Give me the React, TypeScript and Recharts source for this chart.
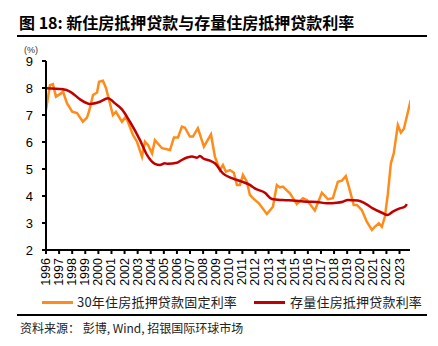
import React from 'react'
import { LineChart, Line, XAxis, YAxis } from 'recharts'

// 30年住房抵押贷款固定利率 (approx)
const fixedYears = [
  1996.0, 1996.3, 1996.53, 1996.76, 1997.15, 1997.3, 1997.6, 1998.0, 1998.37, 1998.82,
  1999.13, 1999.28, 1999.59, 1999.9, 2000.05, 2000.35, 2000.58, 2001.11, 2001.34, 2001.8,
  2002.1, 2002.64, 2002.95, 2003.33, 2003.56, 2003.79, 2004.1, 2004.32, 2004.86, 2005.24,
  2005.47, 2005.77, 2006.08, 2006.38, 2006.61, 2006.99, 2007.22, 2007.6, 2008.06, 2008.6,
  2008.9, 2009.28, 2009.51, 2009.74, 2010.05, 2010.35, 2010.58, 2010.81, 2011.04, 2011.34,
  2011.57, 2011.8, 2012.26, 2012.87, 2013.33, 2013.63, 2013.86, 2014.09, 2014.63, 2015.16,
  2015.62, 2015.92, 2016.53, 2017.07, 2017.53, 2017.91, 2018.29, 2018.6, 2018.9, 2019.2,
  2019.5, 2019.74, 2020.12, 2020.5, 2020.89, 2021.11, 2021.42, 2021.65, 2021.88, 2022.1,
  2022.34, 2022.56, 2022.87, 2023.1, 2023.33, 2023.86,
]
const fixedRates = [
  7.19, 8.1, 8.14, 7.68, 7.8, 7.87, 7.44, 7.12, 7.07, 6.75,
  6.9, 7.12, 7.74, 7.83, 8.23, 8.27, 8.0, 7.0, 7.12, 6.75,
  6.94, 6.26, 6.01, 5.46, 6.01, 5.89, 5.58, 6.07, 5.77, 5.73,
  5.7, 6.17, 6.17, 6.57, 6.53, 6.2, 6.2, 6.51, 5.83, 6.28,
  5.46, 4.96, 5.15, 4.9, 4.96, 4.86, 4.41, 4.41, 4.78, 4.53,
  4.04, 3.92, 3.73, 3.33, 3.6, 4.41, 4.32, 4.35, 4.1, 3.7,
  3.92, 3.85, 3.46, 4.12, 3.88, 3.92, 4.53, 4.57, 4.74, 4.22,
  3.67, 3.67, 3.48, 3.05, 2.74, 2.86, 2.99, 2.86, 3.23, 4.04,
  5.21, 5.58, 6.63, 6.35, 6.48, 7.56,
]

// 存量住房抵押贷款利率
const stockYears = [
  1996.0, 1997.3, 1997.83, 1998.6, 1999.36, 2000.12, 2000.73, 2001.27, 2001.8, 2002.41,
  2003.18, 2003.71, 2004.32, 2004.7, 2005.08, 2005.31, 2006.0, 2006.46, 2007.15, 2007.53,
  2007.76, 2007.98, 2008.52, 2008.9, 2009.51, 2010.2, 2010.96, 2011.57, 2011.95, 2012.72,
  2013.25, 2014.09, 2014.85, 2015.92, 2016.69, 2017.45, 2018.21, 2018.67, 2019.05, 2019.82,
  2020.35, 2020.96, 2021.65, 2022.1, 2022.49, 2023.02, 2023.4, 2023.56,
]
const stockRates = [
  7.99, 7.95, 7.87, 7.58, 7.41, 7.49, 7.62, 7.43, 7.21, 6.75,
  6.07, 5.52, 5.19, 5.15, 5.21, 5.19, 5.23, 5.36, 5.46, 5.42,
  5.48, 5.4, 5.31, 5.21, 4.84, 4.66, 4.53, 4.41, 4.28, 4.12,
  3.89, 3.85, 3.83, 3.79, 3.78, 3.73, 3.75, 3.79, 3.85, 3.83,
  3.73, 3.54, 3.38, 3.3, 3.42, 3.54, 3.6, 3.7,
]

const yearTicks = [
  1996, 1997, 1998, 1999, 2000, 2001, 2002, 2003, 2004, 2005, 2006, 2007, 2008, 2009,
  2010, 2011, 2012, 2013, 2014, 2015, 2016, 2017, 2018, 2019, 2020, 2021, 2022, 2023,
]
const rateTicks = [2, 3, 4, 5, 6, 7, 8, 9]

const fixedData = fixedYears.map((t, i) => ({ t, v: fixedRates[i] }))
const stockData = stockYears.map((t, i) => ({ t, v: stockRates[i] }))

const ORANGE = '#FF8C1A'
const RED = '#C00000'
const numFont = '"Liberation Sans", Arial, sans-serif'
const cjkFont = '"Noto Sans CJK SC", sans-serif'

const YearTick = (props: any) => {
  const { x, y, payload } = props
  return (
    <text
      x={x}
      y={y}
      transform={`rotate(-90 ${x} ${y})`}
      textAnchor="end"
      dominantBaseline="central"
      fontSize={12.5}
      fontFamily={numFont}
      fill="#000"
    >
      {payload.value}
    </text>
  )
}

export default function App() {
  return (
    <div
      style={{
        position: 'absolute',
        left: 0,
        top: 0,
        width: 438,
        height: 346,
        background: '#fff',
        overflow: 'hidden',
      }}
    >
      <div
        style={{
          position: 'absolute',
          left: 19,
          top: 12,
          fontSize: 16,
          fontWeight: 'bold',
          fontFamily: cjkFont,
          lineHeight: '20px',
          whiteSpace: 'nowrap',
        }}
      >
        图 18: 新住房抵押贷款与存量住房抵押贷款利率
      </div>
      <div style={{ position: 'absolute', left: 17, top: 35, width: 410, height: 2, background: '#000' }} />

      <div
        style={{
          position: 'absolute',
          left: 24,
          top: 45,
          fontSize: 9,
          fontFamily: numFont,
          lineHeight: '10px',
          color: '#333',
        }}
      >
        (%)
      </div>

      <div style={{ position: 'absolute', left: 0, top: 0 }}>
        <LineChart width={438} height={292} margin={{ top: 61, right: 28, bottom: 0, left: 16 }}>
          <XAxis
            type="number"
            dataKey="t"
            domain={[1996, 2023.8]}
            ticks={yearTicks}
            interval={0}
            allowDataOverflow
            stroke="#000"
            strokeWidth={2}
            tickSize={4}
            tickMargin={4}
            tick={<YearTick />}
            height={42}
          />
          <YAxis
            type="number"
            domain={[2, 9]}
            ticks={rateTicks}
            interval={0}
            stroke="#000"
            strokeWidth={2}
            tickSize={4}
            tickMargin={9}
            width={30}
            tick={{ fontSize: 13, fontFamily: numFont, fill: '#000' }}
          />
          <Line
            data={fixedData}
            dataKey="v"
            type="linear"
            stroke={ORANGE}
            strokeWidth={2.5}
            dot={false}
            isAnimationActive={false}
          />
          <Line
            data={stockData}
            dataKey="v"
            type="monotone"
            stroke={RED}
            strokeWidth={2.5}
            dot={false}
            isAnimationActive={false}
          />
        </LineChart>
      </div>

      <div
        style={{
          position: 'absolute',
          left: 42,
          top: 294,
          display: 'flex',
          alignItems: 'center',
          fontSize: 13,
          fontFamily: cjkFont,
          lineHeight: '16px',
          whiteSpace: 'nowrap',
          color: '#222',
        }}
      >
        <span style={{ display: 'inline-block', width: 31, height: 3, background: ORANGE, marginRight: 4 }} />
        <span style={{ letterSpacing: 0.2 }}>30年住房抵押贷款固定利率</span>
        <span style={{ display: 'inline-block', width: 31, height: 3, background: RED, marginLeft: 17, marginRight: 5 }} />
        <span style={{ letterSpacing: 0.2 }}>存量住房抵押贷款利率</span>
      </div>

      <div style={{ position: 'absolute', left: 17, top: 314, width: 410, height: 2, background: '#000' }} />
      <div
        style={{
          position: 'absolute',
          left: 20,
          top: 320,
          fontSize: 12,
          fontFamily: cjkFont,
          lineHeight: '15px',
          whiteSpace: 'nowrap',
          color: '#222',
        }}
      >
        资料来源： 彭博, Wind, 招银国际环球市场
      </div>
    </div>
  )
}
